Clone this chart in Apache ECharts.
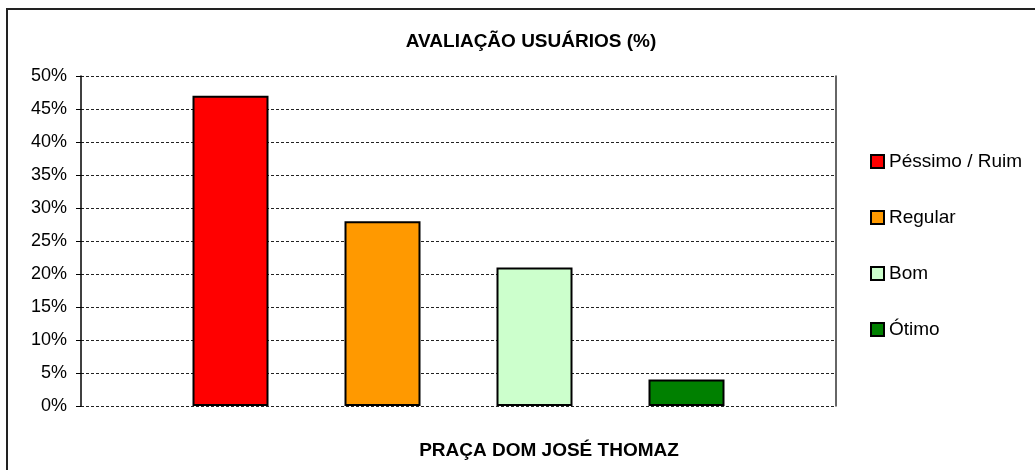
<!DOCTYPE html>
<html>
<head>
<meta charset="utf-8">
<script src="https://cdn.jsdelivr.net/npm/echarts@6/dist/echarts.min.js"></script>
<style>
  html, body { margin: 0; padding: 0; background: #fff; }
  #main { width: 1035px; height: 470px; }
</style>
</head>
<body>
<div id="main"></div>
<script>
var seriesNames = ['Péssimo / Ruim', 'Regular', 'Bom', 'Ótimo'];
var seriesValues = [47, 28, 21, 4];
var seriesColors = ['#ff0000', '#ff9900', '#ccffcc', '#008000'];
var categories = [''];
var yTicks = [0, 50, 5];   // min, max, step

var font = 'Arial, "Liberation Sans", sans-serif';

var myChart = echarts.init(document.getElementById('main'));

var series = seriesNames.map(function (name, i) {
    return {
        name: name,
        type: 'bar',
        data: [seriesValues[i]],
        barWidth: 76,
        barGap: '100%',
        itemStyle: {
            color: seriesColors[i],
            borderColor: '#000',
            borderWidth: 2
        }
    };
});

var option = {
    animation: false,
    backgroundColor: '#fff',
    textStyle: { fontFamily: font },
    title: [
        {
            text: 'AVALIAÇÃO USUÁRIOS (%)',
            left: 526,
            top: 27,
            textAlign: 'center',
            textStyle: { fontFamily: font, fontSize: 19, fontWeight: 'bold', color: '#000' }
        },
        {
            text: 'PRAÇA DOM JOSÉ THOMAZ',
            left: 544,
            top: 436,
            textAlign: 'center',
            textStyle: { fontFamily: font, fontSize: 19, fontWeight: 'bold', color: '#000' }
        }
    ],
    legend: {
        orient: 'vertical',
        left: 865,
        top: 147,
        itemWidth: 13,
        itemHeight: 13,
        itemGap: 37,
        icon: 'rect',
        itemStyle: { borderColor: '#000', borderWidth: 2 },
        textStyle: { fontFamily: font, fontSize: 19, color: '#000', lineHeight: 18 },
        data: seriesNames
    },
    graphic: [
        {
            type: 'rect',
            shape: { x: 7, y: 9, width: 1100, height: 600 },
            style: { fill: 'none', stroke: '#222', lineWidth: 2 },
            silent: true
        }
    ],
    grid: {
        left: 81,
        right: 199,
        top: 76,
        bottom: 64
    },
    xAxis: {
        type: 'category',
        data: categories,
        axisLine: { show: false },
        axisTick: { show: false },
        axisLabel: { show: false }
    },
    yAxis: [
        {
            type: 'value',
            min: yTicks[0],
            max: yTicks[1],
            interval: yTicks[2],
            axisLine: { show: true, lineStyle: { color: '#000', width: 1.5 } },
            axisTick: { show: true, length: 5, lineStyle: { color: '#000' } },
            axisLabel: {
                formatter: '{value}%',
                margin: 14,
                fontFamily: font,
                fontSize: 18,
                color: '#000'
            },
            splitLine: {
                show: true,
                lineStyle: { color: '#222', type: [3, 2], width: 1 }
            }
        },
        {
            type: 'value',
            position: 'right',
            min: yTicks[0],
            max: yTicks[1],
            interval: yTicks[2],
            axisLine: { show: true, lineStyle: { color: '#333', width: 1.5 } },
            axisTick: { show: false },
            axisLabel: { show: false },
            splitLine: { show: false }
        }
    ],
    series: series
};

myChart.setOption(option);
</script>
</body>
</html>
